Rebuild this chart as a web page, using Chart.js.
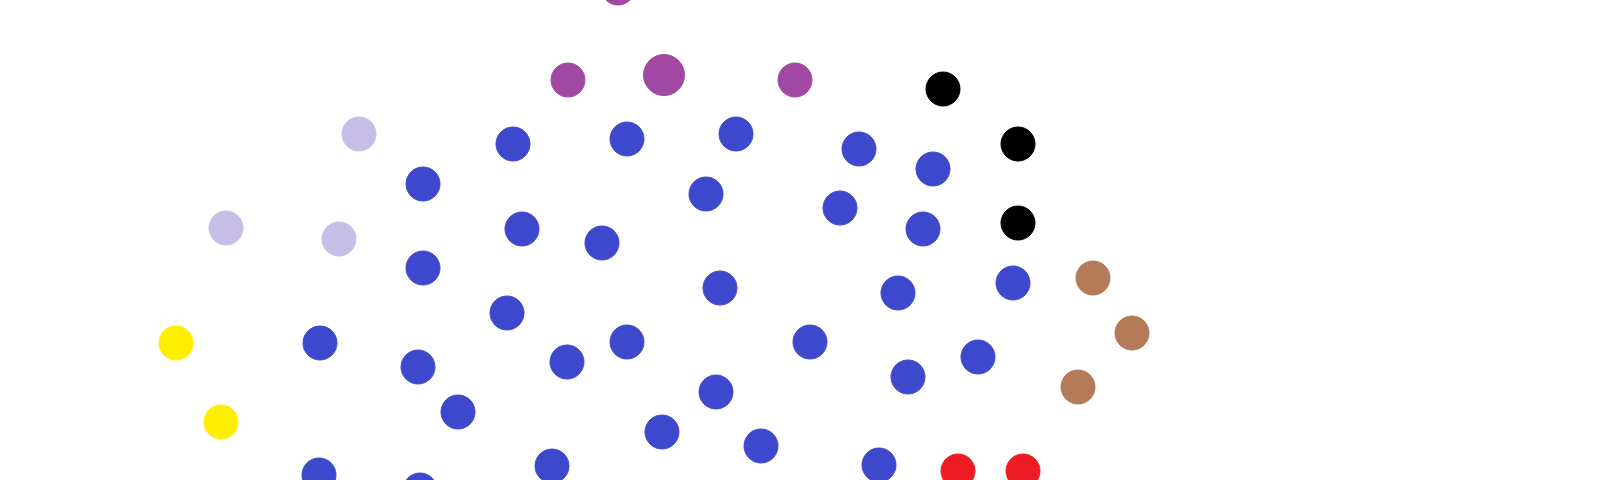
<!DOCTYPE html>
<html>
<head>
<meta charset="utf-8">
<script src="https://cdn.jsdelivr.net/npm/chart.js@4/dist/chart.umd.min.js"></script>
<style>
  html, body { margin: 0; padding: 0; background: #ffffff; }
  #wrap { width: 1600px; height: 480px; position: relative; }
</style>
</head>
<body>
<div id="wrap"><canvas id="c" width="1600" height="480"></canvas></div>
<script>
// Values (arbitrary units; x grows right, y grows down)
const blueX = [423, 513, 627, 736, 859, 933, 706, 840, 923, 522, 602, 423, 720, 898, 1013, 507, 320, 418, 567, 627, 810, 978, 908, 716, 458, 662, 761, 552, 879, 319, 420];
const blueY = [184, 144, 139, 134, 149, 169, 194, 208, 229, 229, 243, 268, 288, 293, 283, 313, 343, 367, 362, 342, 342, 357, 377, 392, 412, 432, 446, 466, 465, 475, 490];
const purpleX = [618, 568, 795];
const purpleY = [-12, 80, 80];
const purpleBigX = [664];
const purpleBigY = [75];
const lavenderX = [359, 226, 339];
const lavenderY = [134, 228, 239];
const blackX = [943, 1018, 1018];
const blackY = [89, 144, 223];
const brownX = [1093, 1132, 1078];
const brownY = [278, 333, 387];
const yellowX = [176, 221];
const yellowY = [343, 422];
const redX = [958, 1023];
const redY = [471, 471];

function pts(xs, ys) { return xs.map((x, i) => ({ x: x, y: ys[i] })); }

function ds(label, xs, ys, color, r) {
  return {
    label: label,
    data: pts(xs, ys),
    backgroundColor: color,
    borderColor: color,
    borderWidth: 1,
    pointRadius: r,
    pointHoverRadius: r,
    clip: false
  };
}

new Chart(document.getElementById('c'), {
  type: 'scatter',
  data: {
    datasets: [
      ds('lavender', lavenderX, lavenderY, 'rgb(198,190,230)', 17),
      ds('purple', purpleX, purpleY, 'rgb(160,72,162)', 17),
      ds('purpleBig', purpleBigX, purpleBigY, 'rgb(160,72,162)', 20.5),
      ds('blue', blueX, blueY, 'rgb(62,72,204)', 17),
      ds('black', blackX, blackY, 'rgb(0,0,0)', 17),
      ds('brown', brownX, brownY, 'rgb(181,122,87)', 17),
      ds('yellow', yellowX, yellowY, 'rgb(255,238,0)', 17),
      ds('red', redX, redY, 'rgb(237,28,36)', 17)
    ]
  },
  options: {
    responsive: false,
    animation: false,
    events: [],
    layout: { padding: 0, autoPadding: false },
    plugins: { legend: { display: false }, tooltip: { enabled: false } },
    scales: {
      x: { type: 'linear', min: 0, max: 1600, display: false },
      y: { type: 'linear', min: 0, max: 480, reverse: true, display: false }
    }
  }
});
</script>
</body>
</html>
